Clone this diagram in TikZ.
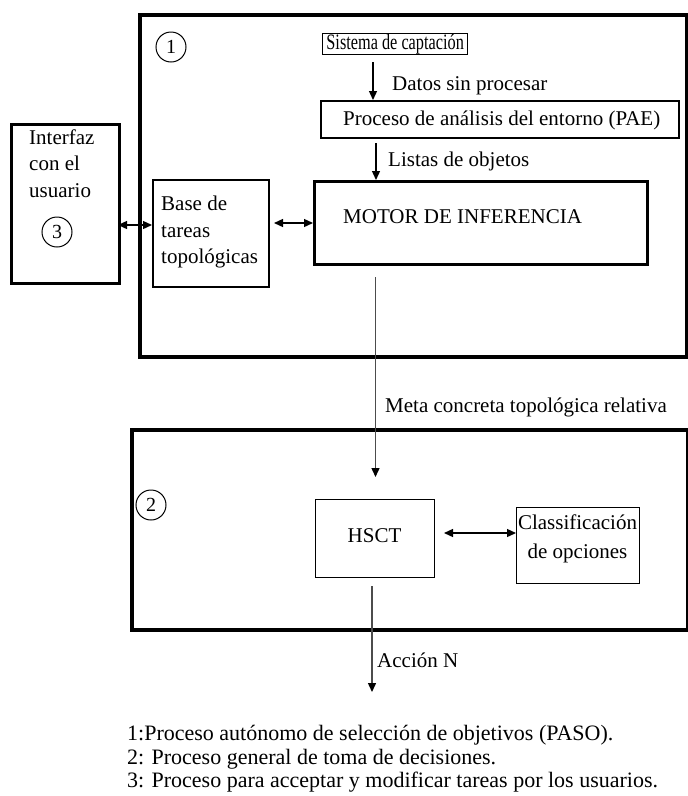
\documentclass[tikz,border=0pt]{standalone}
\usepackage{fontspec}
\setmainfont{Liberation Serif}
\usepackage{graphicx}
\usetikzlibrary{arrows.meta}
\begin{document}
\begin{tikzpicture}[x=1pt,y=-1pt,
  txt/.style={font=\fontsize{21}{25}\selectfont, inner sep=0pt, anchor=base west},
  ctxt/.style={font=\fontsize{21}{25}\selectfont, inner sep=0pt, anchor=base},
  leg/.style={font=\fontsize{22}{24}\selectfont, inner sep=0pt, anchor=base west},
  box/.style={draw, inner sep=0pt, anchor=north west},
  arr/.style={-{Triangle[length=9pt,width=8pt]}, line width=1.3pt},
  darr/.style={{Triangle[length=9pt,width=8pt]}-{Triangle[length=9pt,width=8pt]}, line width=1.3pt},
  garr/.style={-{Triangle[length=9pt,width=8pt,color=black]}, line width=1.4pt, draw=black!70},
  num/.style={draw, circle, line width=1pt, minimum size=30pt, inner sep=0pt, font=\fontsize{20}{20}\selectfont}]
\useasboundingbox (0,0) rectangle (688,796);

% outer process boxes
\node[box, line width=3.5pt, minimum width=547pt, minimum height=342pt] (p1) at (138,13) {};
\node[box, line width=3.5pt, minimum width=556pt, minimum height=200pt] (p2) at (130,428) {};

% inner boxes
\node[box, line width=1.3pt, minimum width=145pt, minimum height=21pt] (sis) at (322,33) {};
\node[inner sep=0pt] at (sis.center) {\scalebox{0.74}[1]{\fontsize{22}{22}\selectfont Sistema de captación}};
\node[box, line width=2pt, minimum width=358pt, minimum height=37pt] (pae) at (320,100) {};
\node[box, line width=3pt, minimum width=333pt, minimum height=83pt] (motor) at (313,180) {};
\node[box, line width=2pt, minimum width=116pt, minimum height=107pt] (base) at (152,179) {};
\node[box, line width=2.5pt, minimum width=108pt, minimum height=159pt] (ui) at (10,123) {};
\node[box, line width=1.3pt, minimum width=119pt, minimum height=78pt] (hsct) at (315,499) {};
\node[box, line width=1.3pt, minimum width=123pt, minimum height=76pt] (cls) at (516,507) {};

% texts in boxes
\node[txt] at (343,125) {Proceso de análisis del entorno (PAE)};
\node[txt] at (343,223) {MOTOR DE INFERENCIA};
\node[txt] at (161,210) {Base de};
\node[txt] at (161,237) {tareas};
\node[txt] at (161,263) {topológicas};
\node[txt] at (29,144) {Interfaz};
\node[txt] at (29,170) {con el};
\node[txt] at (29,197) {usuario};
\node[ctxt] at (374.5,542) {HSCT};
\node[ctxt] at (577.5,529) {Classificación};
\node[ctxt] at (577.5,558) {de opciones};

% numbered circles
\node[num] (n1) at (171,47) {1};
\node[num] (n2) at (151,505) {2};
\node[num] (n3) at (57,232) {3};

% connectors
\coordinate (a1) at (373,62);
\draw[arr] (a1) -- (a1 |- pae.north);
\coordinate (a2) at (376,143);
\draw[arr] (a2) -- (a2 |- motor.north);
\coordinate (m1) at (375.5,277);
\coordinate (m2) at (375.5,477);
\draw[garr] (m1) -- (m2);
\coordinate (h1) at (372,586);
\coordinate (h2) at (372,692);
\draw[garr] (h1) -- (h2);
\coordinate (b1) at (274,223);
\draw[darr] (b1) -- (b1 -| motor.west);
\coordinate (u1) at (118,225);
\draw[darr] (u1) -- (u1 -| base.west);
\coordinate (c1) at (444,533);
\draw[darr] (c1) -- (c1 -| cls.west);

% connector labels
\node[txt] at (392,90) {Datos sin procesar};
\node[txt] at (388,166) {Listas de objetos};
\node[txt] at (385,412) {Meta concreta topológica relativa};
\node[txt] at (377,667) {Acción N};

% legend
\node[leg] at (127,740) {1:Proceso autónomo de selección de objetivos (PASO).};
\node[leg] at (127,764) {2: Proceso general de toma de decisiones.};
\node[leg] at (127,787) {3: Proceso para acceptar y modificar tareas por los usuarios.};
\end{tikzpicture}
\end{document}
